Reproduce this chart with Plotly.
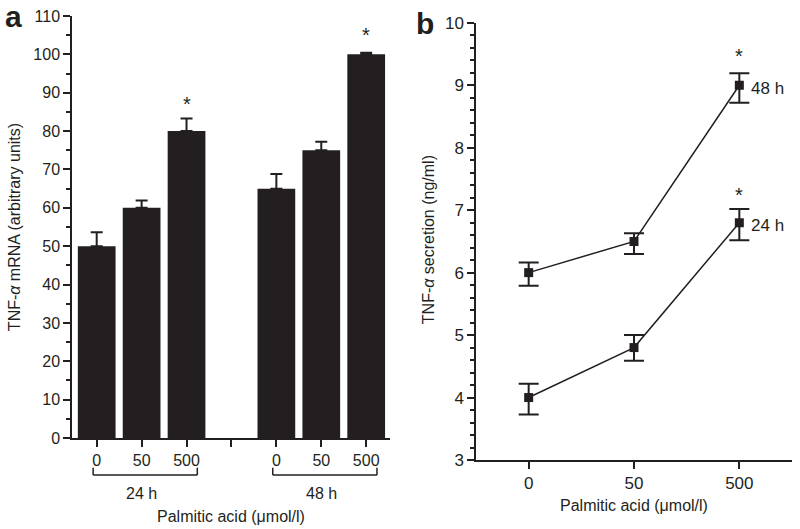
import plotly.graph_objects as go

# ---- Panel a data ----
a_positions = [0, 1, 2, 4, 5, 6]
a_values = [50, 60, 80, 65, 75, 100]
a_err_plus = [3.6, 1.9, 3.3, 3.8, 2.2, 0.4]
a_tick_pos = [0, 1, 2, 3, 4, 5, 6]
a_tick_text = ["0", "50", "500", "", "0", "50", "500"]
a_groups = ["24 h", "48 h"]

# ---- Panel b data ----
b_x = [0, 1, 2]
b_tick_text = ["0", "50", "500"]
b_48 = [6.0, 6.5, 9.0]
b_48_plus = [0.16, 0.13, 0.19]
b_48_minus = [0.21, 0.2, 0.28]
b_24 = [4.0, 4.8, 6.8]
b_24_plus = [0.22, 0.2, 0.22]
b_24_minus = [0.27, 0.21, 0.28]

INK = "#231f20"
FONT = "Liberation Sans, Arial, sans-serif"
FS = 16

fig = go.Figure()

fig.add_trace(go.Bar(
    x=a_positions, y=a_values, width=0.84,
    marker=dict(color=INK, line=dict(width=0)),
    error_y=dict(type="data", symmetric=False, array=a_err_plus,
                 arrayminus=[0] * len(a_values), color=INK, thickness=2, width=6),
    xaxis="x", yaxis="y", showlegend=False,
))

for yv, ep, em in [(b_48, b_48_plus, b_48_minus), (b_24, b_24_plus, b_24_minus)]:
    fig.add_trace(go.Scatter(
        x=b_x, y=yv, mode="lines+markers",
        line=dict(color=INK, width=1.5),
        marker=dict(symbol="square", size=9, color=INK),
        error_y=dict(type="data", symmetric=False, array=ep, arrayminus=em,
                     color=INK, thickness=2, width=10),
        xaxis="x2", yaxis="y2", showlegend=False,
    ))

def axis_common(fs):
    return dict(showline=True, linecolor=INK, linewidth=1.5, ticks="outside",
                tickcolor=INK, tickwidth=1.5, ticklen=7, showgrid=False,
                zeroline=False, automargin=False,
                tickfont=dict(family=FONT, size=fs, color=INK))

fig.update_layout(
    template="none",
    width=800, height=529, autosize=False,
    margin=dict(l=0, r=0, t=0, b=0, pad=0),
    paper_bgcolor="white", plot_bgcolor="white",
    font=dict(family=FONT, size=FS, color=INK),
    xaxis=dict(domain=[0.09, 0.4875], range=[-0.55, 6.53],
               tickmode="array", tickvals=a_tick_pos, ticktext=a_tick_text,
               **axis_common(FS)),
    yaxis=dict(domain=[0.172, 0.9698], range=[0, 110], tickmode="linear",
               tick0=0, dtick=10,
               minor=dict(dtick=5, ticks="outside", ticklen=4, tickcolor=INK, tickwidth=1.5),
               **axis_common(FS)),
    xaxis2=dict(domain=[0.595, 0.99], range=[-0.5, 2.5],
                tickmode="array", tickvals=b_x, ticktext=b_tick_text,
                anchor="y2", **axis_common(17)),
    yaxis2=dict(domain=[0.1304, 0.957], range=[3, 10], tickmode="linear",
                tick0=3, dtick=1, anchor="x2",
                minor=dict(dtick=0.2, ticks="outside", ticklen=4, tickcolor=INK, tickwidth=1.5),
                **axis_common(17)),
)

# brackets below panel a
shapes = []
for i, start in enumerate([0, 4]):
    x0, x1 = start - 0.08, start + 2.24
    shapes.append(dict(type="line", xref="x", yref="paper", x0=x0, x1=x1,
                       y0=0.102, y1=0.102, line=dict(color=INK, width=1.5)))
    for xv in (x0, x1):
        shapes.append(dict(type="line", xref="x", yref="paper", x0=xv, x1=xv,
                           y0=0.102, y1=0.116, line=dict(color=INK, width=1.5)))
fig.update_layout(shapes=shapes)

def A(**kw):
    d = dict(showarrow=False, xanchor="center", yanchor="middle", font=dict(size=FS))
    d.update(kw)
    return d

ann = []
for i, start in enumerate([0, 4]):
    ann.append(A(x=start + 1, y=0.068, xref="x", yref="paper", text=a_groups[i]))
ann.append(A(x=3, y=0.0227, xref="x", yref="paper", text="Palmitic acid (μmol/l)"))
ann.append(A(x=1, y=0.0435, xref="x2", yref="paper", text="Palmitic acid (μmol/l)"))
ann.append(A(x=0.019, y=0.571, xref="paper", yref="paper",
             text="TNF-<i>α</i> mRNA (arbitrary units)", textangle=-90))
ann.append(A(x=0.535, y=0.546, xref="paper", yref="paper",
             text="TNF-<i>α</i> secretion (ng/ml)", textangle=-90))
# asterisks
ann.append(A(x=2, y=87, xref="x", yref="y", text="*", font=dict(size=20)))
ann.append(A(x=6, y=105, xref="x", yref="y", text="*", font=dict(size=20)))
ann.append(A(x=2, y=9.46, xref="x2", yref="y2", text="*", font=dict(size=20)))
ann.append(A(x=2, y=7.24, xref="x2", yref="y2", text="*", font=dict(size=20)))
# series labels
ann.append(A(x=2, y=b_48[2], xref="x2", yref="y2", text="48 h", xanchor="left",
             xshift=10, yshift=-3, font=dict(size=17)))
ann.append(A(x=2, y=b_24[2], xref="x2", yref="y2", text="24 h", xanchor="left",
             xshift=10, yshift=-3, font=dict(size=17)))
# panel letters
ann.append(A(x=0.017, y=0.968, xref="paper", yref="paper", text="<b>a</b>",
             font=dict(size=30)))
ann.append(A(x=0.531, y=0.955, xref="paper", yref="paper", text="<b>b</b>",
             font=dict(size=30)))
fig.update_layout(annotations=ann)

fig.write_html("out.html", config={"displayModeBar": False},
               post_script="document.body.style.margin='0';")
